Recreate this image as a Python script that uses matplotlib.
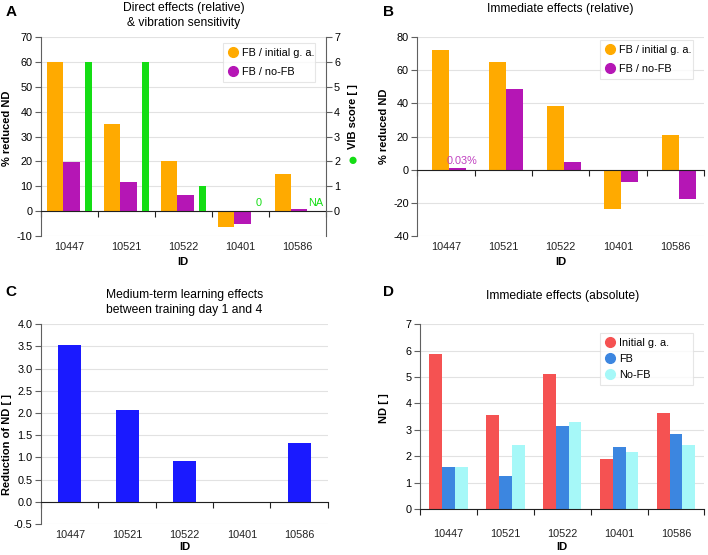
import numpy as np
import matplotlib
matplotlib.use('Agg')
import matplotlib.pyplot as plt
from matplotlib.transforms import blended_transform_factory, offset_copy
from matplotlib.lines import Line2D

plt.rcParams['font.family'] = ['Liberation Sans', 'DejaVu Sans']
plt.rcParams['font.size'] = 8
plt.rcParams['axes.unicode_minus'] = False

ids = ['10447', '10521', '10522', '10401', '10586']

# panel A
direct_fb_initial = [60, 35, 20.3, -6.3, 15]
direct_fb_nofb = [19.7, 11.8, 6.4, -5.1, 1.0]
vib_score = [6, 6, 1, 0, np.nan]
vib_labels = [None, None, None, '0', 'NA']

# panel B
immediate_fb_initial = [72.5, 65, 38.5, -24, 21]
immediate_fb_nofb = [0.7, 49, 4.5, -7.5, -17.5]

# panel C
learning_reduction = [3.52, 2.06, 0.92, -0.04, 1.32]

# panel D
abs_initial = [5.85, 3.55, 5.12, 1.88, 3.62]
abs_fb = [1.58, 1.23, 3.15, 2.33, 2.85]
abs_nofb = [1.58, 2.43, 3.3, 2.17, 2.43]

ORANGE = '#ffaa00'
PURPLE = '#b516b5'
GREEN = '#14dd14'
BLUE_C = '#1a1aff'
RED = '#f55252'
BLUE = '#3c86e0'
CYAN = '#a6f8f8'
GRID = '#e2e2e2'
SPINE = '#606060'
TICK_FS = 7.8


def style_axes(ax, ylim, yticks, lab_px=11, id_px=26):
    x = np.arange(len(ids))
    ax.set_xlim(-0.5, len(ids) - 0.5)
    ax.set_ylim(*ylim)
    ax.set_yticks(yticks)
    ax.yaxis.grid(True, color=GRID, lw=0.8)
    ax.set_axisbelow(True)
    for s in ['top', 'right']:
        ax.spines[s].set_visible(False)
    ax.spines['left'].set_color(SPINE)
    ax.spines['bottom'].set_color('#202020')
    ax.spines['bottom'].set_position(('data', 0))
    ax.set_xticks(np.arange(len(ids) + 1) - 0.5)
    ax.set_xticklabels([])
    ax.tick_params(axis='x', direction='out', length=4, color='#202020')
    ax.tick_params(axis='y', direction='out', length=4, color=SPINE,
                   labelsize=TICK_FS, pad=2)
    base = blended_transform_factory(ax.transData, ax.transAxes)
    trans = offset_copy(base, fig=ax.figure, y=-lab_px, units='dots')
    for xi, name in zip(x, ids):
        ax.text(xi, 0, name, transform=trans, ha='center', va='center',
                fontsize=TICK_FS, color='#222222')
    id_trans = offset_copy(ax.transAxes, fig=ax.figure, y=-id_px, units='dots')
    ax.text(0.5, 0, 'ID', transform=id_trans, ha='center', va='center',
            fontsize=8, fontweight='bold')


def set_ylab(ax, text, fig_x, ay=0.5):
    ax.set_ylabel(text, fontweight='bold', fontsize=8)
    fx, _ = ax.transAxes.inverted().transform(
        ax.figure.transFigure.transform((fig_x, 0)))
    ax.yaxis.set_label_coords(fx, ay)


def dot_legend(ax, labels, colors, box, spacing=0.8):
    handles = [Line2D([], [], marker='o', ls='', markersize=7, color=c) for c in colors]
    leg = ax.legend(handles, labels, loc='upper left', bbox_to_anchor=box, mode='expand',
                    fontsize=7.8, frameon=True, fancybox=False, handletextpad=0.4,
                    labelspacing=spacing, borderpad=0.45, handlelength=0.9,
                    borderaxespad=0.0)
    leg.get_frame().set_edgecolor('#e0e0e0')
    leg.get_frame().set_linewidth(0.8)


fig = plt.figure(figsize=(7.08, 5.55), dpi=100)
x = np.arange(len(ids))

# A
axA = fig.add_axes([0.058, 0.575, 0.402, 0.358])
axA.bar(x - 0.256, direct_fb_initial, 0.28, color=ORANGE)
axA.bar(x + 0.035, direct_fb_nofb, 0.29, color=PURPLE)
style_axes(axA, (-10, 70), np.arange(-10, 71, 10))
set_ylab(axA, '% reduced ND', 0.017, 0.54)
axA2 = axA.twinx()
axA2.bar(x + 0.33, vib_score, 0.12, color=GREEN)
axA2.set_ylim(-1, 7)
axA2.set_yticks(range(0, 8))
for s in ['top', 'left', 'bottom']:
    axA2.spines[s].set_visible(False)
axA2.spines['right'].set_color(SPINE)
axA2.tick_params(axis='y', direction='out', length=4, color=SPINE,
                 labelsize=TICK_FS, pad=2)
for xi, lab in zip(x, vib_labels):
    if lab:
        axA2.text(xi + 0.33, 0.12, lab, color=GREEN, ha='center', va='bottom', fontsize=7.8)
dot_legend(axA, ['FB / initial g. a.', 'FB / no-FB'], [ORANGE, PURPLE],
           (0.639, 0.97, 0.322, 0.0))
axA.set_title('Direct effects (relative)\n& vibration sensitivity', fontsize=8.7, pad=8,
              linespacing=1.35)
fig.text(0.4985, 0.79, 'VIB score [ ]', rotation=90, ha='center', va='center',
         fontsize=8, fontweight='bold')
fig.text(0.4985, 0.711, '\u25cf', color=GREEN, ha='center', va='center', fontsize=12)

# B
axB = fig.add_axes([0.589, 0.575, 0.406, 0.358])
axB.bar(x - 0.095, immediate_fb_initial, 0.29, color=ORANGE)
axB.bar(x + 0.2, immediate_fb_nofb, 0.29, color=PURPLE)
style_axes(axB, (-40, 80), np.arange(-40, 81, 20))
set_ylab(axB, '% reduced ND', 0.549, 0.55)
axB.text(0.29, 5.4, '0.03%', color='#c040c0', ha='center', va='center', fontsize=7.8)
dot_legend(axB, ['FB / initial g. a.', 'FB / no-FB'], [ORANGE, PURPLE],
           (0.638, 0.985, 0.321, 0.0))
axB.set_title('Immediate effects (relative)', fontsize=8.7, pad=18)

# C
axC = fig.add_axes([0.058, 0.056, 0.405, 0.36])
axC.bar(x, learning_reduction, 0.4, color=BLUE_C)
style_axes(axC, (-0.5, 4.0), np.arange(-0.5, 4.01, 0.5), id_px=23)
axC.set_yticklabels(['%.1f' % v for v in np.arange(-0.5, 4.01, 0.5)])
set_ylab(axC, 'Reduction of ND [ ]', 0.017, 0.395)
axC.set_title('Medium-term learning effects\nbetween training day 1 and 4', fontsize=8.7,
              pad=8, linespacing=1.35)

# D
axD = fig.add_axes([0.593, 0.083, 0.402, 0.333])
axD.bar(x - 0.226, abs_initial, 0.226, color=RED)
axD.bar(x, abs_fb, 0.226, color=BLUE)
axD.bar(x + 0.226, abs_nofb, 0.226, color=CYAN)
style_axes(axD, (0, 7), range(0, 8), lab_px=25, id_px=38)
set_ylab(axD, 'ND [ ]', 0.549, 0.546)
dot_legend(axD, ['Initial g. a.', 'FB', 'No-FB'], [RED, BLUE, CYAN],
           (0.634, 0.951, 0.324, 0.0), spacing=0.55)
axD.set_title('Immediate effects (absolute)', fontsize=8.7, pad=18)

for letter, fx, fy in [('A', 0.008, 0.978), ('B', 0.541, 0.978),
                       ('C', 0.008, 0.474), ('D', 0.541, 0.474)]:
    fig.text(fx, fy, letter, fontsize=11, fontweight='bold', ha='left', va='center')

fig.savefig('out.png', dpi=100)
